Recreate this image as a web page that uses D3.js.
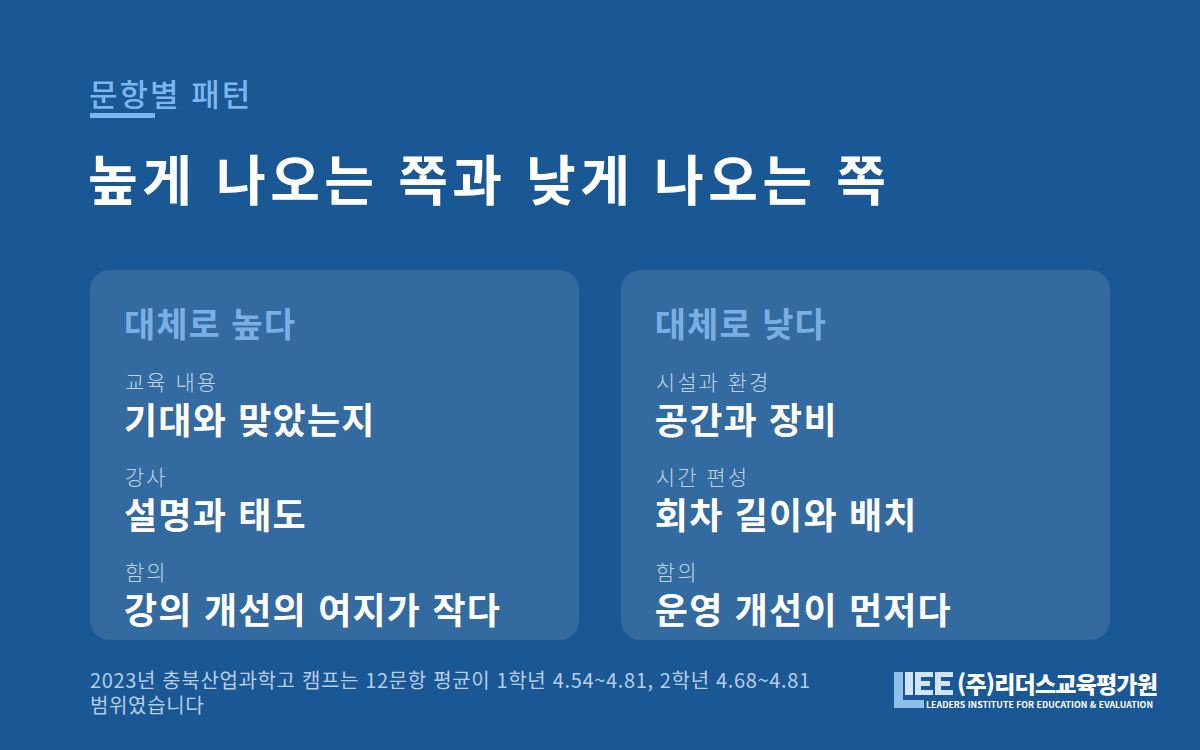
<!DOCTYPE html>
<html lang="ko">
<head>
<meta charset="utf-8">
<script src="https://cdn.jsdelivr.net/npm/d3@7"></script>
<style>
  html, body { margin: 0; padding: 0; background: #1a5795; }
  svg { display: block; }
  text { font-family: "Noto Sans CJK KR", "Noto Sans", sans-serif; }
</style>
</head>
<body>
<div id="chart"></div>
<script>
// slide content
const kicker = "문항별 패턴";
const title = "높게 나오는 쪽과 낮게 나오는 쪽";
const cardTitles = ["대체로 높다", "대체로 낮다"];
const itemLabels = [
  ["교육 내용", "강사", "함의"],
  ["시설과 환경", "시간 편성", "함의"]
];
const itemValues = [
  ["기대와 맞았는지", "설명과 태도", "강의 개선의 여지가 작다"],
  ["공간과 장비", "회차 길이와 배치", "운영 개선이 먼저다"]
];
const footLines = [
  "2023년 충북산업과학고 캠프는 12문항 평균이 1학년 4.54~4.81, 2학년 4.68~4.81",
  "범위였습니다"
];
const logoKo = "(주)리더스교육평가원";
const logoEn = "LEADERS INSTITUTE FOR EDUCATION & EVALUATION";

const W = 1200, H = 750;
const accent = "#7db6ee";

const svg = d3.select("#chart").append("svg")
  .attr("width", W).attr("height", H);

svg.append("rect").attr("width", W).attr("height", H).attr("fill", "#1a5795");

// header
svg.append("text").attr("x", 89).attr("y", 106)
  .attr("font-size", 31).attr("font-weight", 500).attr("fill", accent)
  .attr("letter-spacing", 2)
  .text(kicker);
svg.append("rect").attr("x", 90).attr("y", 113).attr("width", 65).attr("height", 5)
  .attr("fill", accent);

svg.append("text").attr("x", 88).attr("y", 201)
  .attr("font-size", 54).attr("font-weight", 700).attr("fill", "#ffffff")
  .attr("letter-spacing", 4.5)
  .text(title);

// cards
const xCard = d3.scaleBand().domain(d3.range(cardTitles.length))
  .range([90, 1110]).paddingInner(40 / 510);
const yRow = d3.scaleLinear().domain([0, 1]).range([390, 485]);

const cards = svg.selectAll("g.card").data(cardTitles).join("g")
  .attr("class", "card")
  .attr("transform", (d, i) => `translate(${xCard(i)},270)`);

cards.append("rect")
  .attr("width", xCard.bandwidth()).attr("height", 370).attr("rx", 20)
  .attr("fill", "#336ba1");

cards.append("text").attr("x", 34).attr("y", 67)
  .attr("font-size", 34).attr("font-weight", 700).attr("fill", "#79afe4")
  .attr("letter-spacing", 1)
  .text(d => d);

cards.each(function(d, i) {
  const g = d3.select(this);
  itemLabels[i].forEach((lab, j) => {
    g.append("text").attr("x", 35).attr("y", yRow(j) - 270)
      .attr("font-size", 21).attr("font-weight", 300).attr("fill", "#c0d4ea")
      .attr("letter-spacing", 2)
      .text(lab);
    g.append("text").attr("x", 34).attr("y", yRow(j) - 270 + 44)
      .attr("font-size", 36).attr("font-weight", 700).attr("fill", "#ffffff")
      .attr("letter-spacing", 1.2)
      .text(itemValues[i][j]);
  });
});

// footnote
svg.selectAll("text.foot").data(footLines).join("text")
  .attr("class", "foot")
  .attr("x", 90).attr("y", (d, i) => 688 + i * 25)
  .attr("font-size", 20).attr("font-weight", 400).attr("fill", "#b8cde6")
  .attr("letter-spacing", 0.65)
  .text(d => d);

// logo
const logo = svg.append("g").attr("transform", "translate(894,672)");
logo.append("rect").attr("x", 0).attr("y", 0).attr("width", 9).attr("height", 36).attr("fill", "#8fc0ea");
logo.append("rect").attr("x", 0).attr("y", 28).attr("width", 30).attr("height", 8).attr("fill", "#8fc0ea");
// I E E blocks
const blk = logo.append("g").attr("fill", "#cfe4f7");
blk.append("rect").attr("x", 11).attr("y", 0).attr("width", 8).attr("height", 23);
[21, 41].forEach(x0 => {
  blk.append("rect").attr("x", x0).attr("y", 0).attr("width", 18).attr("height", 5);
  blk.append("rect").attr("x", x0).attr("y", 0).attr("width", 6).attr("height", 23);
  blk.append("rect").attr("x", x0).attr("y", 9).attr("width", 15).attr("height", 5);
  blk.append("rect").attr("x", x0).attr("y", 18).attr("width", 18).attr("height", 5);
});
logo.append("text").attr("x", 63).attr("y", 21)
  .attr("font-size", 23).attr("font-weight", 900).attr("fill", "#ffffff")
  .attr("letter-spacing", -0.8)
  .text(logoKo);
logo.append("text").attr("x", 32).attr("y", 36)
  .attr("font-size", 8.8).attr("font-weight", 700).attr("fill", "#ffffff")
  .attr("font-family", "Roboto, 'Noto Sans', sans-serif")
  .text(logoEn);
</script>
</body>
</html>
